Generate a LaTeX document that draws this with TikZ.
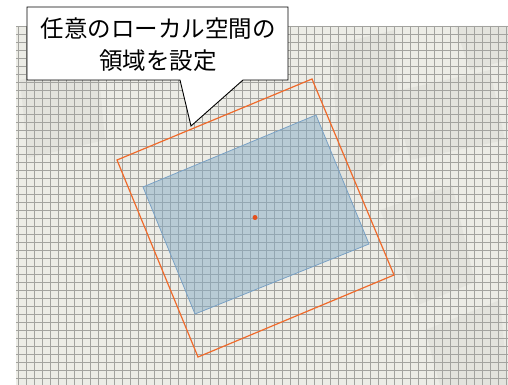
\documentclass[tikz,border=0pt]{standalone}
\usepackage{fontspec}
\newfontfamily\jpfont{Noto Sans CJK JP}
\definecolor{bgpaper}{HTML}{ECECE6}
\definecolor{gridgray}{HTML}{A3A39F}
\definecolor{bldg}{HTML}{D9D9D3}
\definecolor{areaorange}{HTML}{EF6A2B}
\definecolor{areablue}{HTML}{86ABC6}
\definecolor{areablueline}{HTML}{78A0C4}
\definecolor{dotred}{HTML}{E4501C}
\tikzset{
  gridline/.style={draw=gridgray, line width=0.75pt},
  building/.style={fill=bldg, fill opacity=0.45, draw=none},
  outerarea/.style={draw=areaorange, line width=1.2pt, line join=miter},
  innerarea/.style={draw=areablueline, line width=0.8pt, fill=areablue, fill opacity=0.5},
  centerdot/.style={circle, fill=dotred, draw=none, inner sep=0pt, minimum size=5pt},
  calloutshape/.style={draw=black, line width=0.9pt, fill=white, line join=miter},
  callouttext/.style={font=\jpfont\fontsize{23.5}{32}\selectfont, align=center, inner sep=0pt}
}
\begin{document}
\begin{tikzpicture}[x=1pt, y=-1pt]
\useasboundingbox (0,0) rectangle (508,385);
% map background
\fill[bgpaper] (16,26) rectangle (508,385);
% faint buildings
\fill[building] (20,80) -- (98,62) -- (105,140) -- (28,158) -- cycle;
\fill[building] (332,45) -- (395,30) -- (400,150) -- (340,200) -- cycle;
\fill[building] (392,92) -- (490,70) -- (505,140) -- (410,160) -- cycle;
\fill[building] (380,210) -- (452,185) -- (475,282) -- (418,305) -- cycle;
\fill[building] (425,330) -- (500,300) -- (508,385) -- (440,385) -- cycle;
\fill[building] (455,26) -- (508,26) -- (508,60) -- (470,70) -- cycle;
% grid
\foreach \gx in {18.7,26.7,...,508} {\draw[gridline] (\gx,26) -- (\gx,385);}
\foreach \gy in {26,34,...,385} {\draw[gridline] (16,\gy) -- (508,\gy);}
% local space areas
\coordinate (oTL) at (117,160);
\coordinate (oTR) at (312,79);
\coordinate (oBR) at (394,275);
\coordinate (oBL) at (198,357);
\draw[outerarea] (oTL) -- (oTR) -- (oBR) -- (oBL) -- cycle;
\coordinate (bTL) at (143,187);
\coordinate (bTR) at (316,115);
\coordinate (bBR) at (369,244);
\coordinate (bBL) at (195,314);
\draw[innerarea] (bTL) -- (bTR) -- (bBR) -- (bBL) -- cycle;
\node[centerdot] (origin) at (255,217.5) {};
% callout
\coordinate (tip) at (191,126);
\draw[calloutshape] (27,7) -- (288,7) -- (288,80) -- (243,80) -- (tip) -- (180,80) -- (27,80) -- cycle;
\node[callouttext] (label) at (158,45) {任意のローカル空間の\\領域を設定};
\end{tikzpicture}
\end{document}
